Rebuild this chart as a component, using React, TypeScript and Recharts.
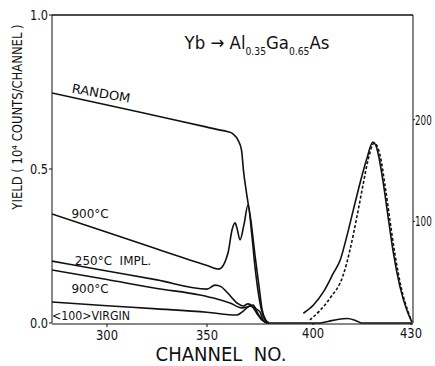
import { LineChart, Line, XAxis, YAxis, ReferenceLine } from "recharts"

// left panel: backscattering yield vs channel (left axis, 10^4 counts/channel)
const randomCh = [272.5, 300, 325, 350, 356, 360, 363, 365.5, 367.3, 368.2, 369.8, 372, 374, 376, 377.5, 379.5, 381]
const randomYield = [0.747, 0.708, 0.672, 0.636, 0.627, 0.622, 0.614, 0.594, 0.56, 0.497, 0.42, 0.33, 0.22, 0.12, 0.045, 0.008, 0]

const hot900Ch = [272.5, 300, 325, 350, 356, 360.5, 362.5, 364, 365, 366.5, 368.5, 370.5, 372.5, 374, 376.5, 379, 381]
const hot900Yield = [0.354, 0.295, 0.24, 0.187, 0.175, 0.227, 0.302, 0.325, 0.308, 0.27, 0.32, 0.383, 0.28, 0.182, 0.065, 0.01, 0]

const implCh = [272.5, 300, 325, 350, 354, 357, 360, 365, 368, 370.5, 372.5, 375, 377.5, 380]
const implYield = [0.201, 0.169, 0.14, 0.11, 0.123, 0.118, 0.1, 0.065, 0.055, 0.062, 0.055, 0.03, 0.01, 0]

const low900Ch = [272.5, 300, 325, 346.5, 355, 361.5, 367.5, 370, 373, 375.5, 377.5, 380]
const low900Yield = [0.172, 0.141, 0.112, 0.091, 0.078, 0.065, 0.049, 0.052, 0.058, 0.03, 0.01, 0]

const virginCh = [272.5, 300, 325, 350, 365, 368, 371.5, 374, 376.5, 378, 380]
const virginYield = [0.068, 0.056, 0.046, 0.035, 0.026, 0.038, 0.055, 0.048, 0.036, 0.01, 0]

// right panel: Yb peak (right axis, counts)
const ybSolidCh = [397, 400.1, 403.2, 406.2, 408.3, 410.3, 412.3, 414.4, 416.4, 418.3, 419.2, 420, 421.5, 423.1, 424.6, 426.6, 428.7, 430.2]
const ybSolidCounts = [9.6, 17.7, 30.8, 49, 62, 85, 111, 138, 161, 178, 175, 165.5, 137.6, 101.5, 68.7, 35.8, 12.8, 1.3]

const ybDashCh = [399, 402, 405.2, 409.2, 411.3, 413.5, 415.3, 416.8, 418.7, 420.5, 422, 423.6, 425.1, 427, 429.1, 430.3]
const ybDashCounts = [3, 12, 24.6, 47, 72, 106, 136, 160, 177, 165, 136, 99.5, 67, 34.5, 11, 1]

const baseCh = [386, 402, 404.5, 407.5, 410.5, 413, 415, 430.5]
const baseCounts = [0, 0, 1.5, 3.5, 4.5, 2.5, 0, 0]

const leftTicks = [0, 0.5, 1]
const rightTicks = [100, 200]
const loTicks = [300, 350]
const hiTicks = [400, 430]

const zip = (xs: number[], ys: number[]) => xs.map((ch, i) => ({ ch, v: ys[i] }))

const FONT = "'DejaVu Sans', sans-serif"
const INK = "#111"

function Txt({ x, y, size, rot = 0, sx = 1, children }: any) {
  return (
    <div
      style={{
        position: "absolute",
        left: x,
        top: y,
        transform: `translate(-50%, -50%) rotate(${rot}deg) scaleX(${sx})`,
        fontFamily: FONT,
        fontSize: size,
        color: INK,
        whiteSpace: "pre",
        lineHeight: 1,
      }}
    >
      {children}
    </div>
  )
}

// narrow tick labels, squeezed like the condensed lettering of the original
function NarrowTick({ x, y, payload, textAnchor, fmt, per = 6, size = 14 }: any) {
  const label = fmt ? fmt(payload.value) : String(payload.value)
  return (
    <text
      x={x}
      y={y}
      dy="0.355em"
      textAnchor={textAnchor}
      fontFamily={FONT}
      fontSize={size}
      fill={INK}
      textLength={label.length * per}
      lengthAdjust="spacingAndGlyphs"
    >
      {label}
    </text>
  )
}

function BottomTick({ x, y, payload }: any) {
  const label = String(payload.value)
  return (
    <text
      x={x}
      y={y}
      dy="0.8em"
      textAnchor="middle"
      fontFamily={FONT}
      fontSize={14}
      fill={INK}
      textLength={22}
      lengthAdjust="spacingAndGlyphs"
    >
      {label}
    </text>
  )
}

export default function App() {
  const line = (data: any[], xId: string, yId: string, key: string, dash?: string) => (
    <Line
      key={key}
      data={data}
      dataKey="v"
      xAxisId={xId}
      yAxisId={yId}
      type="monotone"
      stroke={INK}
      strokeWidth={1.6}
      strokeDasharray={dash}
      dot={false}
      activeDot={false}
      isAnimationActive={false}
    />
  )

  return (
    <div style={{ position: "absolute", left: 0, top: 0, width: 435, height: 366, background: "#fff" }}>
      <LineChart width={435} height={366} margin={{ top: 15, right: 0, left: 12, bottom: 41 }}>
        <XAxis
          xAxisId="lo"
          type="number"
          dataKey="ch"
          domain={[272.5, 453]}
          ticks={loTicks}
          height={1}
          tickSize={3}
          tickMargin={2}
          stroke={INK}
          tick={<BottomTick />}
          allowDataOverflow
        />
        <XAxis
          xAxisId="hi"
          type="number"
          dataKey="ch"
          domain={[320, 430.6]}
          ticks={hiTicks}
          height={1}
          axisLine={false}
          tickSize={2}
          tickMargin={2}
          stroke={INK}
          tick={<BottomTick />}
          allowDataOverflow
        />
        <YAxis
          yAxisId="left"
          type="number"
          domain={[0, 1]}
          ticks={leftTicks}
          width={40}
          tickSize={3}
          tickMargin={1}
          stroke={INK}
          tick={<NarrowTick fmt={(v: number) => v.toFixed(1)} />}
        />
        <YAxis
          yAxisId="right"
          orientation="right"
          type="number"
          domain={[0, 303]}
          ticks={rightTicks}
          width={22}
          tickSize={2}
          tickMargin={0}
          stroke={INK}
          tick={<NarrowTick per={5.6} size={14} />}
        />
        <ReferenceLine xAxisId="lo" yAxisId="left" y={1} stroke={INK} strokeWidth={1.5} />
        {line(zip(randomCh, randomYield), "lo", "left", "random")}
        {line(zip(hot900Ch, hot900Yield), "lo", "left", "hot900")}
        {line(zip(implCh, implYield), "lo", "left", "impl")}
        {line(zip(low900Ch, low900Yield), "lo", "left", "low900")}
        {line(zip(virginCh, virginYield), "lo", "left", "virgin")}
        {line(zip(baseCh, baseCounts), "hi", "right", "base")}
        {line(zip(ybSolidCh, ybSolidCounts), "hi", "right", "ybSolid")}
        {line(zip(ybDashCh, ybDashCounts), "hi", "right", "ybDash", "3 2")}
      </LineChart>

      <Txt x={257} y={43} size={18} sx={0.92}>
        Yb → Al
        <span style={{ fontSize: 10, position: "relative", top: 6 }}>0.35</span>
        Ga
        <span style={{ fontSize: 10, position: "relative", top: 6 }}>0.65</span>
        As
      </Txt>
      <Txt x={18} y={117} size={13.5} rot={-90} sx={0.86}>YIELD ( 10⁴ COUNTS/CHANNEL )</Txt>
      <Txt x={221} y={354} size={20} sx={0.9}>CHANNEL  NO.</Txt>
      <Txt x={101} y={94} size={12.5} rot={10} sx={1.05}>RANDOM</Txt>
      <Txt x={90} y={213} size={13} sx={0.92}>900°C</Txt>
      <Txt x={113} y={260} size={13} sx={0.92}>250°C  IMPL.</Txt>
      <Txt x={90} y={288} size={13} sx={0.92}>900°C</Txt>
      <Txt x={91} y={316} size={12} sx={0.92}>&lt;100&gt;VIRGIN</Txt>
    </div>
  )
}
